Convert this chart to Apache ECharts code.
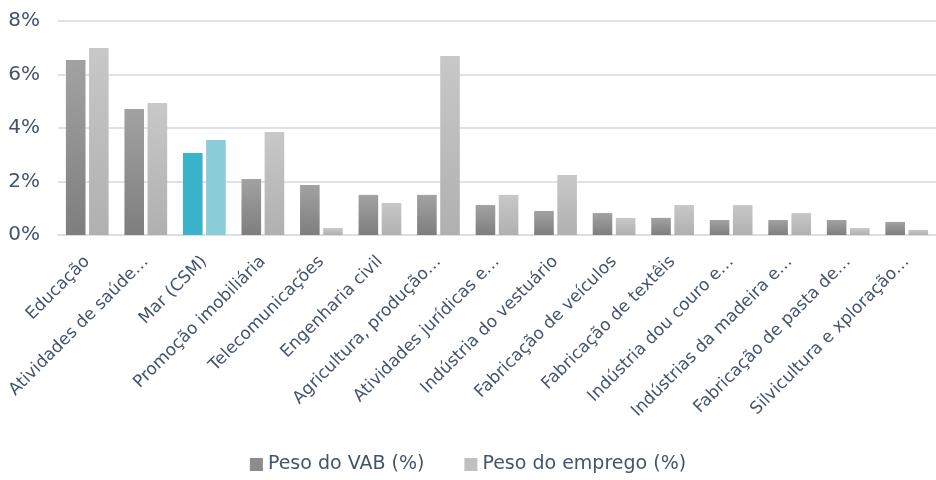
<!DOCTYPE html>
<html>
<head>
<meta charset="utf-8">
<script src="https://cdn.jsdelivr.net/npm/echarts@6/dist/echarts.min.js"></script>
<style>
  html, body { margin: 0; padding: 0; background: #fff; }
  #chart { width: 936px; height: 480px; }
</style>
</head>
<body>
<div id="chart"></div>
<script>
// setores
var categories = ['Educação', 'Atividades de saúde…', 'Mar (CSM)', 'Promoção imobiliária',
  'Telecomunicações', 'Engenharia civil', 'Agricultura, produção…', 'Atividades jurídicas e…',
  'Indústria do vestuário', 'Fabricação de veículos', 'Fabricação de textêis',
  'Indústria dou couro e…', 'Indústrias da madeira e…', 'Fabricação de pasta de…',
  'Silvicultura e xploração…'];

var pesoVAB = [6.54, 4.71, 3.07, 2.09, 1.87, 1.50, 1.50, 1.12, 0.90, 0.82, 0.64, 0.56, 0.56, 0.56, 0.49];
var pesoEmprego = [6.99, 4.93, 3.55, 3.85, 0.26, 1.20, 6.69, 1.50, 2.24, 0.64, 1.12, 1.12, 0.82, 0.26, 0.19];
var yTicks = [0, 2, 4, 6, 8];

var destaque = 'Mar (CSM)';
var txt = '#44546a';
var fonte = 'DejaVu Sans';

function grad(top, bottom) {
  return new echarts.graphic.LinearGradient(0, 0, 0, 1, [
    { offset: 0, color: top },
    { offset: 1, color: bottom }
  ]);
}

function montar(valores, corDestaque) {
  return valores.map(function (v, i) {
    if (categories[i] === destaque) {
      return { value: v, itemStyle: { color: corDestaque } };
    }
    return v;
  });
}

var myChart = echarts.init(document.getElementById('chart'));
var option = {
  animation: false,
  grid: { left: 58, right: 0, top: 21, bottom: 245, outerBoundsMode: 'none', containLabel: false },
  legend: {
    bottom: 1,
    left: 'center',
    itemWidth: 13,
    itemHeight: 13,
    itemGap: 40,
    icon: 'rect',
    textStyle: { color: txt, fontSize: 19, fontFamily: fonte },
    data: [
      { name: 'Peso do VAB (%)', itemStyle: { color: '#8c8c8c' } },
      { name: 'Peso do emprego (%)', itemStyle: { color: '#c0c0c0' } }
    ]
  },
  xAxis: {
    type: 'category',
    data: categories,
    axisTick: { show: false },
    axisLine: { lineStyle: { color: '#d9dee7', width: 2 } },
    axisLabel: {
      interval: 0,
      rotate: 45,
      margin: 24,
      color: txt,
      fontSize: 17,
      fontFamily: fonte
    }
  },
  yAxis: {
    type: 'value',
    min: yTicks[0],
    max: yTicks[yTicks.length - 1],
    interval: 2,
    axisLine: { show: false },
    axisTick: { show: false },
    splitLine: { lineStyle: { color: '#dde2ea', width: 2 } },
    axisLabel: {
      formatter: '{value}%',
      color: txt,
      fontSize: 20,
      fontFamily: fonte,
      margin: 18
    }
  },
  series: [
    {
      name: 'Peso do VAB (%)',
      type: 'bar',
      barGap: '18%',
      barCategoryGap: '27%',
      itemStyle: { color: grad('#a2a2a2', '#7e7e7e') },
      data: montar(pesoVAB, '#3ab2ca')
    },
    {
      name: 'Peso do emprego (%)',
      type: 'bar',
      itemStyle: { color: grad('#c8c8c8', '#b0b0b0') },
      data: montar(pesoEmprego, '#8acdd9')
    }
  ]
};
myChart.setOption(option);
</script>
</body>
</html>
